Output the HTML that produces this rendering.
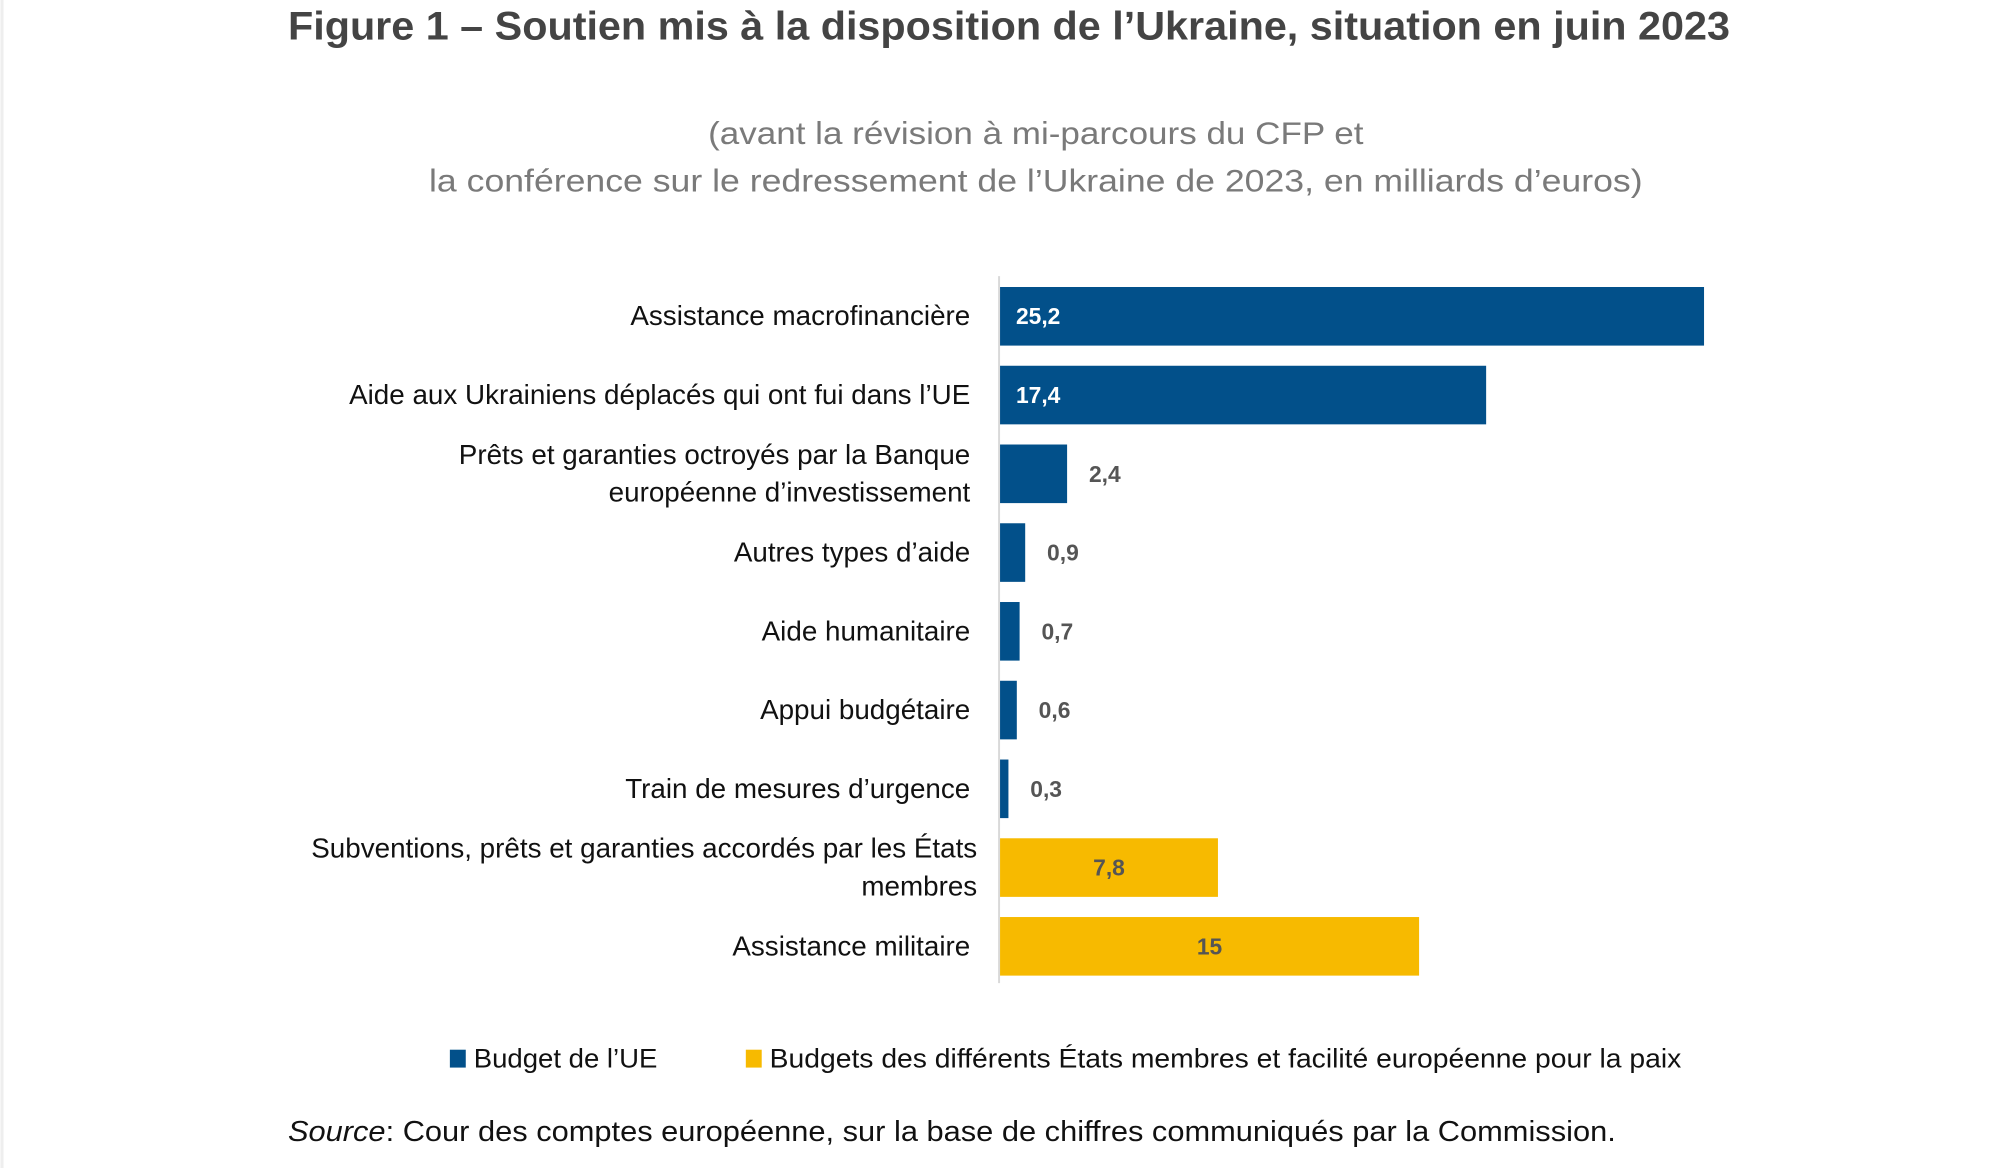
<!DOCTYPE html>
<html><head><meta charset="utf-8"><style>
html,body{margin:0;padding:0;background:#fff}
svg{display:block;font-family:"Liberation Sans",sans-serif}
</style></head><body>
<svg id="chart" width="2014" height="1168" viewBox="0 0 2014 1168">
<line x1="2" y1="0" x2="2" y2="1168" stroke="#eee" stroke-width="3"/>
<g transform="scale(0.9931)">
<text x="1016" y="40" text-anchor="middle" font-size="40" font-weight="bold" fill="#444" textLength="1452" lengthAdjust="spacingAndGlyphs">Figure 1 – Soutien mis à la disposition de l’Ukraine, situation en juin 2023</text>
<text x="1043" y="145" text-anchor="middle" font-size="32" fill="#7a7a7a" textLength="660" lengthAdjust="spacingAndGlyphs">(avant la révision à mi-parcours du CFP et</text>
<text x="1043" y="193" text-anchor="middle" font-size="32" fill="#7a7a7a" textLength="1222" lengthAdjust="spacingAndGlyphs">la conférence sur le redressement de l’Ukraine de 2023, en milliards d’euros)</text>
<line x1="1006" y1="278" x2="1006" y2="990" stroke="#d9d9d9" stroke-width="2"/>
<g id="bars"></g>
<rect x="453" y="1057" width="16" height="18" fill="#02508a"/>
<text x="477" y="1075" font-size="27" fill="#111" textLength="185" lengthAdjust="spacingAndGlyphs">Budget de l’UE</text>
<rect x="751" y="1057" width="16" height="18" fill="#f7ba00"/>
<text x="775" y="1075" font-size="27" fill="#111" textLength="918" lengthAdjust="spacingAndGlyphs">Budgets des différents États membres et facilité européenne pour la paix</text>
<text x="290" y="1149" font-size="29" fill="#111" textLength="1337" lengthAdjust="spacingAndGlyphs"><tspan font-style="italic">Source</tspan>: Cour des comptes européenne, sur la base de chiffres communiqués par la Commission.</text>
</g>
</svg>
<script>
const categories = [
  ["Assistance macrofinancière"],
  ["Aide aux Ukrainiens déplacés qui ont fui dans l’UE"],
  ["Prêts et garanties octroyés par la Banque","européenne d’investissement"],
  ["Autres types d’aide"],
  ["Aide humanitaire"],
  ["Appui budgétaire"],
  ["Train de mesures d’urgence"],
  ["Subventions, prêts et garanties accordés par les États","membres"],
  ["Assistance militaire"]
];
const values = [25.2, 17.4, 2.4, 0.9, 0.7, 0.6, 0.3, 7.8, 15];
const valueLabels = ["25,2","17,4","2,4","0,9","0,7","0,6","0,3","7,8","15"];
const groups = ["eu","eu","eu","eu","eu","eu","eu","ms","ms"];

const NS = "http://www.w3.org/2000/svg";
const x0 = 1007, pxPerUnit = 28.13;
const xScale = v => x0 + v * pxPerUnit;
const bandTop = 289, pitch = 79.3, barH = 59;
const yScale = i => bandTop + i * pitch;
const g = document.getElementById("bars");
function mk(tag, attrs){const e=document.createElementNS(NS,tag);for(const k in attrs)e.setAttribute(k,attrs[k]);return e;}
values.forEach((v,i)=>{
  const y = yScale(i), w = xScale(v) - x0;
  const col = groups[i]==="eu" ? "#02508a" : "#f7ba00";
  const r = mk("rect",{x:x0,y:y,width:w,height:barH,fill:col});
  
  
  g.appendChild(r);
  const t = mk("text",{"font-size":23,"font-weight":"bold",y:y+barH/2+8});
  if (groups[i]==="ms"){ t.setAttribute("x", x0+w/2); t.setAttribute("text-anchor","middle"); t.setAttribute("fill","#555"); }
  else if (v>10){ t.setAttribute("x", x0+16); t.setAttribute("fill","#fff"); }
  else { t.setAttribute("x", xScale(v)+22); t.setAttribute("fill","#555"); }
  t.textContent = valueLabels[i];
  
  
  g.appendChild(t);
  const lines = categories[i];
  const lx = groups[i]==="ms" && lines.length>1 ? 984 : 977;
  lines.forEach((s,j)=>{
    const cy = y + barH/2 + 9 + (lines.length>1 ? (j-0.5)*38 : 0);
    const lt = mk("text",{x:lx,y:cy,"text-anchor":"end","font-size":28,fill:"#111"});
    lt.textContent = s;
    
    
    g.appendChild(lt);
  });
});
</script>
</body></html>
